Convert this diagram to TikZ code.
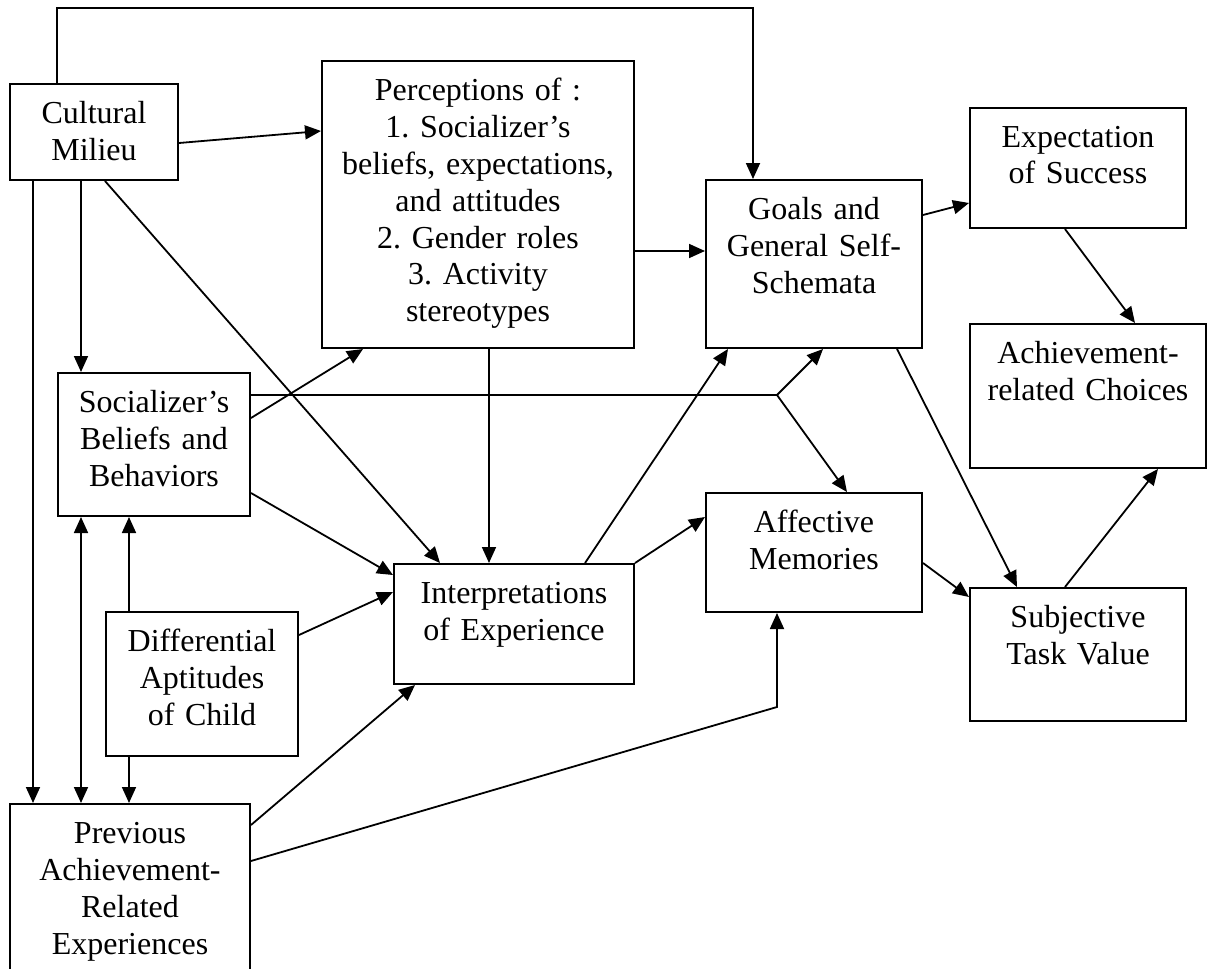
\documentclass[tikz,border=0pt]{standalone}
\usepackage{fontspec}
\setmainfont{Liberation Serif}
\usetikzlibrary{arrows.meta}
\frenchspacing
\tikzset{
  box/.style 2 args={draw, line width=1pt, anchor=north west, align=center, inner xsep=0pt, inner ysep=5pt, text height=14.5pt, text width=#1, minimum width=#1, text depth=#2},
  conn/.style={line width=0.9pt},
  arr/.style={conn, -{Triangle[length=8pt,width=7pt]}},
  darr/.style={conn, {Triangle[length=8pt,width=7pt]}-{Triangle[length=8pt,width=7pt]}}
}
\begin{document}
\begin{tikzpicture}[x=0.5pt, y=-0.5pt, font=\fontsize{16}{18.5}\selectfont]
\clip (0,0) rectangle (1207,969);
\node [box={84pt}{23.5pt}] (cult) at (9,83) {Cultural\\Milieu};
\node [box={156pt}{119pt}] (perc) at (321,60) {Perceptions of :\\1. Socializer’s\\beliefs, expectations,\\and attitudes\\2. Gender roles\\3. Activity\\stereotypes};
\node [box={108pt}{59.5pt}] (goals) at (705,179) {Goals and\\General Self-\\Schemata};
\node [box={108pt}{35.5pt}] (expect) at (969,107) {Expectation\\of Success};
\node [box={118pt}{47.5pt}] (choice) at (969,323) {Achievement-\\related Choices};
\node [box={96pt}{47pt}] (soc) at (57,372) {Socializer’s\\Beliefs and\\Behaviors};
\node [box={96pt}{47.5pt}] (diff) at (105,611) {Differential\\Aptitudes\\of Child};
\node [box={120pt}{35.5pt}] (interp) at (393,563) {Interpretations\\of Experience};
\node [box={108pt}{35pt}] (affect) at (705,492) {Affective\\Memories};
\node [box={108pt}{42pt}] (subj) at (969,587) {Subjective\\Task Value};
\node [box={120pt}{75.5pt}] (prev) at (9,803) {Previous\\Achievement-\\Related\\Experiences};
\coordinate (topbar) at (753,8);
\coordinate (fork) at (777,395);
\coordinate (bend) at (777,707);
% from cultural milieu
\draw[arr] ([xshift=24pt]cult.north west) |- (topbar) -- ([xshift=24pt]goals.north west);
\draw[arr] ([yshift=-5.5pt]cult.east) -- ([yshift=-35.5pt]perc.north west);
\draw[arr] ([xshift=12pt]cult.south west) -- ([xshift=12pt]prev.north west);
\draw[arr] ([xshift=36pt]cult.south west) -- ([xshift=12pt]soc.north west);
\draw[arr] ([xshift=48pt]cult.south west) -- ([xshift=23.5pt]interp.north west);
% from perceptions
\draw[arr] ([xshift=84pt]perc.south west) -- ([xshift=48pt]interp.north west);
\draw[arr] ([yshift=-95.5pt]perc.north east) -- ([yshift=-36pt]goals.north west);
% from socializer
\draw[arr] ([yshift=-23pt]soc.north east) -- ([xshift=21pt]perc.south west);
\draw[conn] ([yshift=-11.5pt]soc.north east) -- (fork);
\draw[arr] (fork) -- ([xshift=59pt]goals.south west);
\draw[arr] (fork) -- ([xshift=71pt]affect.north west);
\draw[arr] ([yshift=-60.5pt]soc.north east) -- ([yshift=-6pt]interp.north west);
% aptitudes and previous experiences
\draw[arr] ([xshift=12pt]diff.north west) -- ([xshift=36pt]soc.south west);
\draw[darr] ([xshift=36pt]prev.north west) -- ([xshift=12pt]soc.south west);
\draw[arr] ([xshift=12pt]diff.south west) -- ([xshift=60pt]prev.north west);
\draw[arr] ([yshift=-12pt]diff.north east) -- ([yshift=-14.5pt]interp.north west);
\draw[arr] ([yshift=-11pt]prev.north east) -- ([xshift=11pt]interp.south west);
\draw[arr] ([yshift=-29pt]prev.north east) -- (bend) -- ([xshift=36pt]affect.south west);
% from interpretations
\draw[arr] ([xshift=96pt]interp.north west) -- ([xshift=11.5pt]goals.south west);
\draw[arr] (interp.north east) -- ([yshift=-12.5pt]affect.north west);
% right part
\draw[arr] ([yshift=-18pt]goals.north east) -- ([yshift=-48pt]expect.north west);
\draw[arr] ([xshift=48pt]expect.south west) -- ([xshift=83pt]choice.north west);
\draw[arr] ([xshift=96pt]goals.south west) -- ([xshift=24pt]subj.north west);
\draw[arr] ([yshift=-35.5pt]affect.north east) -- ([yshift=-5pt]subj.north west);
\draw[arr] ([xshift=48pt]subj.north west) -- ([xshift=94.5pt]choice.south west);
\end{tikzpicture}
\end{document}
